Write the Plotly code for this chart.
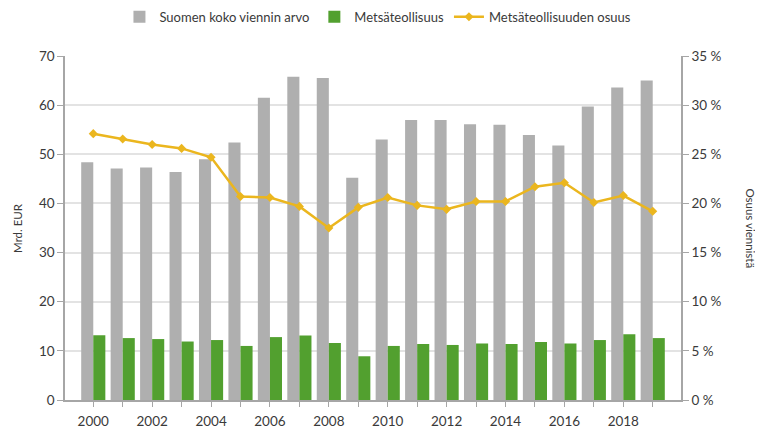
import plotly.graph_objects as go

years = list(range(2000, 2020))
total_export = [48.4, 47.1, 47.3, 46.4, 49.0, 52.4, 61.5, 65.8, 65.5, 45.2,
                53.0, 57.0, 57.0, 56.1, 56.0, 53.9, 51.8, 59.7, 63.6, 65.0]
forest_industry = [13.2, 12.6, 12.4, 11.9, 12.2, 11.0, 12.8, 13.1, 11.6, 8.9,
                   11.0, 11.4, 11.2, 11.5, 11.4, 11.8, 11.5, 12.2, 13.4, 12.6]
share_pct = [27.1, 26.55, 26.0, 25.6, 24.7, 20.7, 20.6, 19.7, 17.5, 19.6,
             20.6, 19.8, 19.4, 20.2, 20.2, 21.7, 22.1, 20.1, 20.8, 19.2]
tick_labels = [str(y) if y % 2 == 0 else "" for y in years]

FONT = "Lato"
TXT = "#3A3A3A"
AX = "#A6A6A6"

fig = go.Figure()
fig.add_trace(go.Bar(x=years, y=total_export, name="Suomen koko viennin arvo",
                     marker=dict(color="#AFAFAF", line=dict(width=0))))
fig.add_trace(go.Bar(x=years, y=forest_industry, name="Metsäteollisuus",
                     marker=dict(color="#52A02F", line=dict(width=0))))
fig.add_trace(go.Scatter(x=years, y=share_pct, name="Metsäteollisuuden osuus",
                         yaxis="y2", mode="lines+markers",
                         line=dict(color="#EBB61E", width=2.5),
                         marker=dict(symbol="diamond", size=7, color="#EBB61E")))

fig.update_layout(
    width=755, height=420,
    margin=dict(l=57, r=82, t=48, b=28, autoexpand=False),
    paper_bgcolor="white", plot_bgcolor="white",
    barmode="group", bargap=0.18, bargroupgap=0,
    font=dict(family=FONT, color=TXT, size=13),
    showlegend=True,
    legend=dict(orientation="h", x=0.49, xanchor="center", xref="container",
                y=0.979, yanchor="middle", yref="container",
                font=dict(size=13, color=TXT), itemwidth=30,
                traceorder="normal"),
    xaxis=dict(range=[1999.04, 2019.96], tickmode="array",
               tickvals=years, ticktext=tick_labels,
               ticks="outside", ticklen=5, tickcolor=AX,
               ticklabelstandoff=3,
               showline=True, linecolor=AX, linewidth=1.5,
               showgrid=False, zeroline=False, automargin=False,
               tickfont=dict(size=13.5, color=TXT)),
    yaxis=dict(range=[0, 70], dtick=10, ticks="outside", ticklen=6,
               tickcolor=AX, showline=True, linecolor=AX, linewidth=1.5,
               showgrid=True, gridcolor="#E3E3E3", gridwidth=1.5,
               zeroline=False, automargin=False,
               tickfont=dict(size=13.5, color=TXT)),
    yaxis2=dict(range=[0, 35], dtick=5, overlaying="y", side="right",
                ticks="outside", ticklen=6, tickcolor=AX,
                showline=True, linecolor=AX, linewidth=1.5,
                showgrid=False, zeroline=False, ticksuffix=" %",
                automargin=False, tickfont=dict(size=13.5, color=TXT)),
    annotations=[
        dict(text="Mrd. EUR", xref="paper", yref="paper", x=-0.078, y=0.5,
             xanchor="center", yanchor="middle", textangle=-90,
             showarrow=False, font=dict(size=11.5, color=TXT)),
        dict(text="Osuus viennistä", xref="paper", yref="paper", x=1.113, y=0.5,
             xanchor="center", yanchor="middle", textangle=90,
             showarrow=False, font=dict(size=11.5, color=TXT)),
    ],
)

fig.write_html("out.html")
